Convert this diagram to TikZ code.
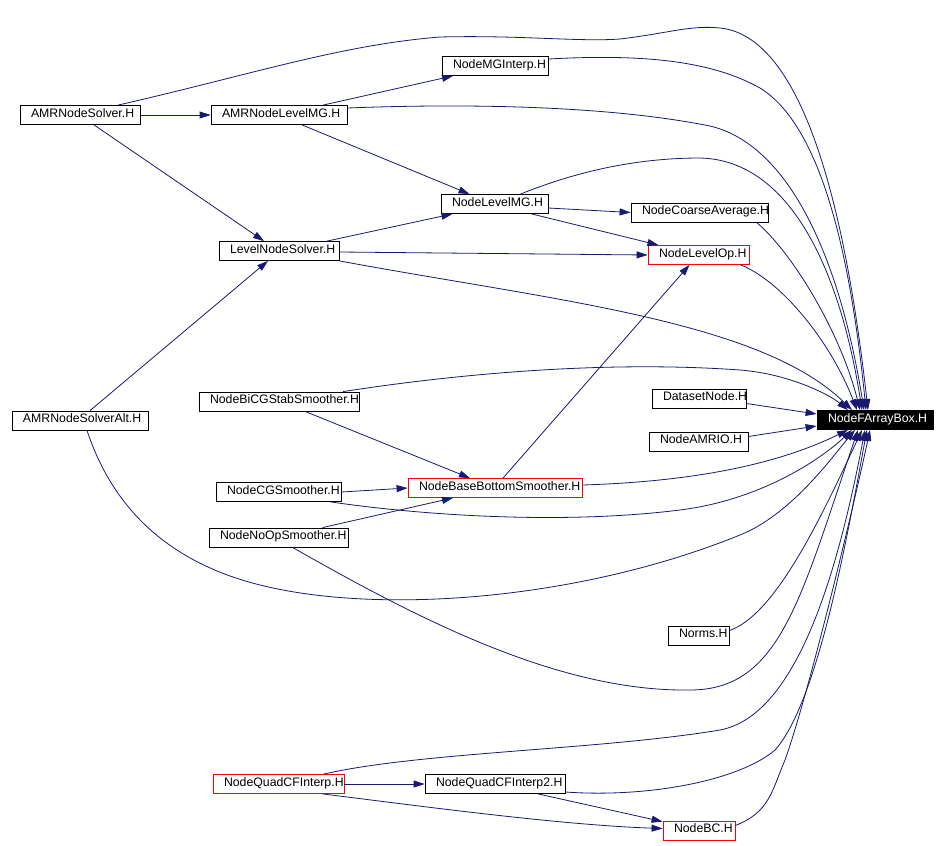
\documentclass[tikz,border=0pt]{standalone}
\usepackage{fontspec}
\setmainfont{Liberation Sans}
\usetikzlibrary{arrows.meta}
\definecolor{edgeblue}{HTML}{191970}
\definecolor{boxred}{HTML}{FF0000}
\setlength{\parindent}{0pt}
\hyphenpenalty=10000

\begin{document}
\begin{tikzpicture}[x=1pt, y=-1pt, line width=0.8pt,
    font=\fontsize{12.3}{14}\selectfont,
    hdr/.style={draw=black, fill=white, minimum height=19pt, inner xsep=0pt, inner ysep=0pt,
                text height=8pt, text depth=3.6pt, align=left,
                execute at begin node=\hspace*{11pt}},
    redhdr/.style={hdr, draw=boxred},
    mainhdr/.style={hdr, fill=black, text=white},
    dep/.style={draw=edgeblue, -{Triangle[length=11pt,width=7pt]}}]
  \path[fill=white] (0,0) rectangle (946,846);

  \node[hdr, text width=120pt] (ans) at (80,115) {AMRNodeSolver.H};
  \node[hdr, text width=136pt] (alm) at (279,115) {AMRNodeLevelMG.H};
  \node[hdr, text width=106pt] (mgi) at (495,66) {NodeMGInterp.H};
  \node[hdr, text width=107pt] (nlm) at (494.5,204) {NodeLevelMG.H};
  \node[hdr, text width=137pt] (nca) at (699.5,212.5) {NodeCoarseAverage.H};
  \node[redhdr, text width=101pt] (nlo) at (698.5,255) {NodeLevelOp.H};
  \node[hdr, text width=120pt] (lns) at (279,251) {LevelNodeSolver.H};
  \node[hdr, text width=136pt] (ansa) at (80,420.5) {AMRNodeSolverAlt.H};
  \node[hdr, text width=160pt] (bicg) at (279,401.5) {NodeBiCGStabSmoother.H};
  \node[hdr, text width=125pt] (cgs) at (278.5,492) {NodeCGSmoother.H};
  \node[hdr, text width=139pt] (noop) at (278.5,537.5) {NodeNoOpSmoother.H};
  \node[redhdr, text width=174pt] (bbs) at (495,488) {NodeBaseBottomSmoother.H};
  \node[hdr, text width=94pt] (dsn) at (699,398.5) {DatasetNode.H};
  \node[hdr, text width=99pt] (amrio) at (698.5,441.5) {NodeAMRIO.H};
  \node[mainhdr, text width=116pt] (fab) at (875,420) {NodeFArrayBox.H};
  \node[hdr, text width=61pt] (norms) at (698.5,635.5) {Norms.H};
  \node[redhdr, text width=131pt] (qcf) at (278.5,784) {NodeQuadCFInterp.H};
  \node[hdr, text width=140pt] (qcf2) at (495,784) {NodeQuadCFInterp2.H};
  \node[redhdr, text width=72pt] (nbc) at (699,830.5) {NodeBC.H};

  \draw[dep] (ans.east) -- (alm.west);
  \draw[dep] ([xshift=14pt]ans.south) -- ([xshift=-15pt]lns.north);
  \draw[dep] ([xshift=38pt]ans.north) .. controls (250,75) and (340,45) .. (440,37)
     .. controls (520,35) and (580,42) .. (620,39) .. controls (670,33) and (690,25) .. (720,28)
     .. controls (790,35) and (840,160) .. ([xshift=-7pt]fab.north);
  \draw[dep] ([xshift=44pt]alm.north) -- ([xshift=-42pt]mgi.south);
  \draw[dep] ([xshift=23pt]alm.south) -- ([xshift=-25pt]nlm.north);
  \draw[dep] ([yshift=7pt]alm.east) .. controls (450,104) and (600,104) .. (710,126)
     .. controls (790,145) and (840,260) .. ([xshift=-11pt]fab.north);
  \draw[dep] ([yshift=7pt]mgi.east) .. controls (640,54) and (710,60) .. (760,88)
     .. controls (820,125) and (850,250) .. ([xshift=-9pt]fab.north);
  \draw[dep] ([xshift=26pt]nlm.north) .. controls (580,170) and (640,158) .. (700,158)
     .. controls (790,160) and (840,270) .. ([xshift=-13pt]fab.north);
  \draw[dep] ([yshift=-4pt]nlm.east) -- (nca.west);
  \draw[dep] ([xshift=37pt]nlm.south) -- ([xshift=-40pt]nlo.north);
  \draw[dep] ([xshift=57pt]nca.south) .. controls (790,250) and (840,330) .. ([xshift=-15pt]fab.north);
  \draw[dep] ([xshift=42pt]nlo.south) .. controls (780,280) and (830,340) .. ([xshift=-18pt]fab.north);
  \draw[dep] ([xshift=48pt]lns.north) -- ([xshift=-42pt]nlm.south);
  \draw[dep] ([yshift=-1pt]lns.east) -- (nlo.west);
  \draw[dep] (lns.south east) .. controls (550,300) and (760,320) .. ([xshift=-23pt]fab.north);
  \draw[dep] ([xshift=10pt]ansa.north) -- ([xshift=-11pt]lns.south);
  \draw[dep] ([xshift=7pt]ansa.south) .. controls (110,500) and (160,560) .. (260,585)
     .. controls (380,615) and (580,600) .. (740,535)
     .. controls (790,515) and (830,460) .. ([xshift=-20pt]fab.south);
  \draw[dep] ([xshift=64pt]bicg.north) .. controls (450,375) and (600,360) .. (740,370)
     .. controls (790,374) and (830,395) .. ([xshift=-27pt]fab.north);
  \draw[dep] ([xshift=26pt]bicg.south) -- ([xshift=-25pt]bbs.north);
  \draw[dep] (cgs.east) -- (bbs.west);
  \draw[dep] ([xshift=52pt]cgs.south) .. controls (420,515) and (560,525) .. (680,510)
     .. controls (760,500) and (820,460) .. ([xshift=-23pt]fab.south);
  \draw[dep] ([xshift=44pt]noop.north) -- ([xshift=-42pt]bbs.south);
  \draw[dep] ([xshift=14pt]noop.south) .. controls (420,620) and (560,692) .. (690,690)
     .. controls (780,690) and (800,600) .. ([xshift=-17pt]fab.south);
  \draw[dep] ([xshift=8pt]bbs.north) -- ([xshift=-9pt]nlo.south);
  \draw[dep] ([yshift=3pt]bbs.east) .. controls (680,482) and (770,468) .. ([xshift=-27pt]fab.south);
  \draw[dep] ([yshift=-5pt]dsn.east) -- ([yshift=6pt]fab.west);
  \draw[dep] ([yshift=5pt]amrio.east) -- ([yshift=-6pt]fab.west);
  \draw[dep] ([yshift=5pt]norms.east) .. controls (775,615) and (820,520) .. ([xshift=-13pt]fab.south);
  \draw[dep] ([xshift=45pt]qcf.north) .. controls (420,752) and (600,750) .. (720,730)
     .. controls (800,715) and (840,560) .. ([xshift=-10pt]fab.south);
  \draw[dep] (qcf.east) -- (qcf2.west);
  \draw[dep] ([xshift=44pt]qcf.south) .. controls (420,806) and (560,825) .. ([yshift=2pt]nbc.west);
  \draw[dep] ([yshift=-8pt]qcf2.east) .. controls (650,798) and (740,780) .. (775,750)
     .. controls (820,700) and (850,520) .. ([xshift=-8pt]fab.south);
  \draw[dep] ([xshift=43pt]qcf2.south) -- ([yshift=-1pt]nbc.north west);
  \draw[dep] ([yshift=5pt]nbc.east) .. controls (770,812) and (772,790) .. (785,760)
     .. controls (810,690) and (855,500) .. ([xshift=-5pt]fab.south);
\end{tikzpicture}
\end{document}
